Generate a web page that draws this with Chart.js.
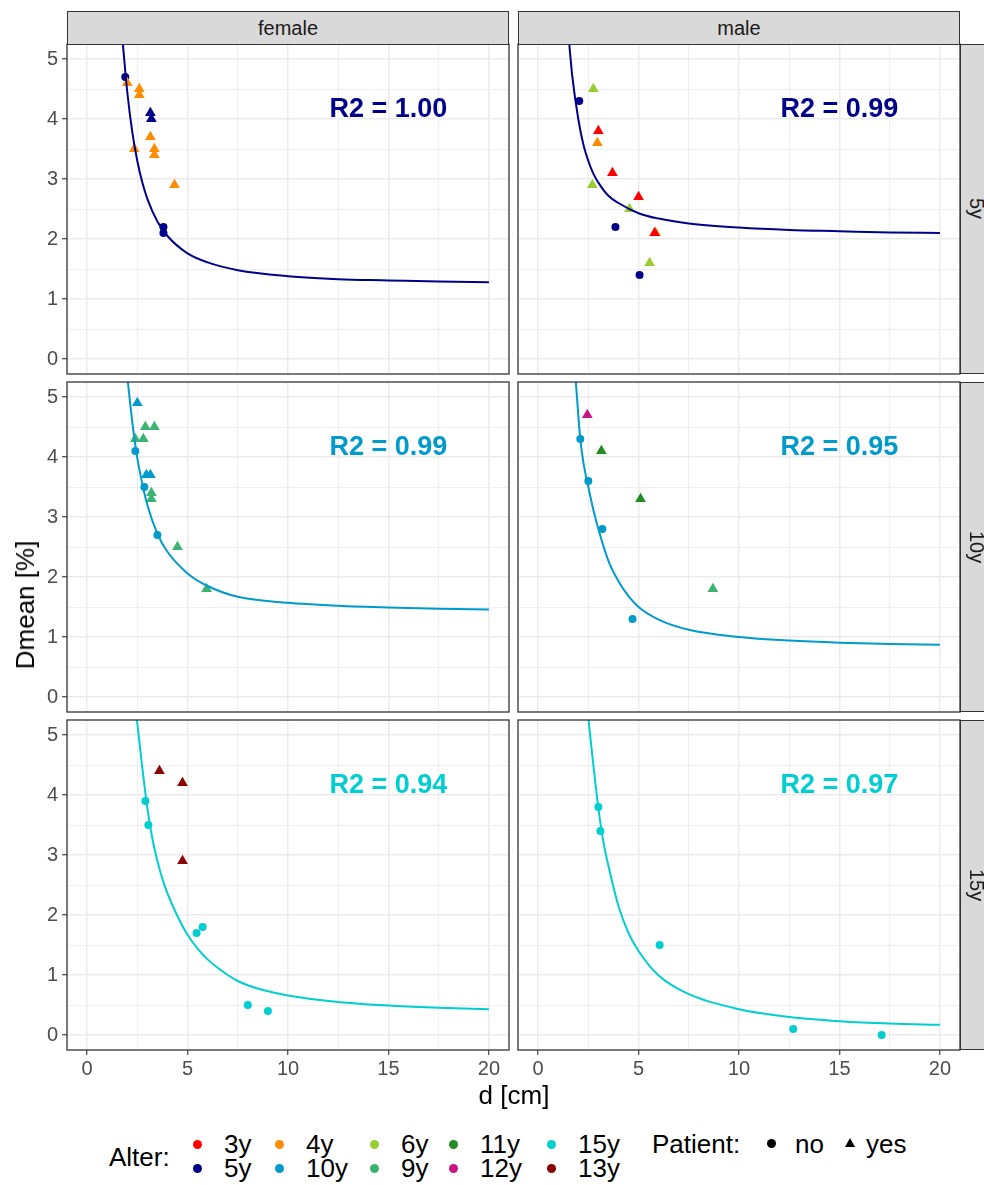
<!DOCTYPE html>
<html>
<head>
<meta charset="utf-8">
<script src="https://cdn.jsdelivr.net/npm/chart.js@4.4.1/dist/chart.umd.min.js"></script>
<style>
  body { margin: 0; background: #fff; }
  #page { position: relative; width: 984px; height: 1185px; overflow: hidden;
          font-family: "Liberation Sans", Arial, Helvetica, sans-serif; }
  #page canvas { position: absolute; }
  .strip { position: absolute; background: #D9D9D9; border: 1.2px solid #333333; box-sizing: border-box;
           color: #1A1A1A; font-size: 20px; line-height: 1; display: flex; align-items: center; justify-content: center; }
  .strip.side { writing-mode: vertical-rl; }
  .txt { position: absolute; line-height: 1; white-space: nowrap; color: #000; }
  .dot { position: absolute; width: 9px; height: 9px; border-radius: 50%; }
  .tri { position: absolute; width: 0; height: 0; border-left: 5px solid transparent;
         border-right: 5px solid transparent; border-bottom: 9px solid #000; }
</style>
</head>
<body>
<div id="page"></div>
<script>
// facets
const sexLevels = ['female', 'male'];
const yearLevels = ['5y', '10y', '15y'];

// colour per age group (legend order, column by column)
const ageLevels = ['3y', '5y', '4y', '10y', '6y', '9y', '11y', '12y', '15y', '13y'];
const ageColors = ['#FF0000', '#00008B', '#FF8C00', '#009ACD', '#9ACD32', '#3CB371', '#228B22', '#C71585', '#00CED1', '#8B0000'];
const fitColors = ['#00008B', '#009ACD', '#00CED1'];

// axes
const xGrid = [0, 2.5, 5, 7.5, 10, 12.5, 15, 17.5, 20];
const xLabels = [0, 5, 10, 15, 20];
const yGrid = [0, 0.5, 1, 1.5, 2, 2.5, 3, 3.5, 4, 4.5, 5];
const yLabels = [0, 1, 2, 3, 4, 5];

const r2Values = ['1.00', '0.99', '0.99', '0.95', '0.94', '0.97'];

// female, 5y
const f5D       = [1.9, 2.0, 2.6, 2.6, 3.15, 3.2, 3.15, 2.35, 3.35, 3.35, 4.35, 3.8, 3.8];
const f5Dmean   = [4.7, 4.6, 4.5, 4.4, 4.1, 4.0, 3.7, 3.5, 3.5, 3.4, 2.9, 2.2, 2.1];
const f5Alter   = ['5y', '4y', '4y', '4y', '5y', '5y', '4y', '4y', '4y', '4y', '4y', '5y', '5y'];
const f5Patient = ['no', 'yes', 'yes', 'yes', 'yes', 'yes', 'yes', 'yes', 'yes', 'yes', 'yes', 'no', 'no'];
const f5FitD     = [1.78, 2, 2.25, 2.5, 2.75, 3, 3.5, 4, 5, 6, 7.5, 10, 12.5, 15, 17.5, 20];
const f5FitDmean = [5.25, 4.45, 3.78, 3.3, 2.94, 2.67, 2.29, 2.05, 1.76, 1.61, 1.48, 1.38, 1.33, 1.31, 1.29, 1.28];

// male, 5y
const m5D       = [2.75, 2.05, 3.0, 2.95, 3.7, 2.7, 5.0, 4.55, 3.85, 5.85, 5.8, 5.55, 5.05];
const m5Dmean   = [4.5, 4.3, 3.8, 3.6, 3.1, 2.9, 2.7, 2.5, 2.2, 2.1, 2.1, 1.6, 1.4];
const m5Alter   = ['6y', '5y', '3y', '4y', '3y', '6y', '3y', '6y', '5y', '4y', '3y', '6y', '5y'];
const m5Patient = ['yes', 'no', 'yes', 'yes', 'yes', 'yes', 'yes', 'yes', 'no', 'yes', 'yes', 'yes', 'no'];
const m5FitD     = [1.55, 1.7, 2, 2.25, 2.5, 2.75, 3, 3.5, 4, 5, 6, 7.5, 10, 12.5, 15, 17.5, 20];
const m5FitDmean = [5.25, 4.72, 4.0, 3.58, 3.3, 3.09, 2.94, 2.72, 2.6, 2.43, 2.34, 2.26, 2.19, 2.15, 2.13, 2.11, 2.1];

// female, 10y
const f10D       = [2.5, 2.9, 3.35, 2.4, 2.8, 2.4, 2.95, 3.15, 2.85, 3.2, 3.2, 3.5, 4.5, 5.95];
const f10Dmean   = [4.9, 4.5, 4.5, 4.3, 4.3, 4.1, 3.7, 3.7, 3.5, 3.4, 3.3, 2.7, 2.5, 1.8];
const f10Alter   = ['10y', '9y', '9y', '9y', '9y', '10y', '10y', '10y', '10y', '9y', '9y', '10y', '9y', '9y'];
const f10Patient = ['yes', 'yes', 'yes', 'yes', 'yes', 'no', 'yes', 'yes', 'no', 'yes', 'yes', 'no', 'yes', 'yes'];
const f10FitD     = [2.03, 2.25, 2.5, 2.75, 3, 3.5, 4, 5, 6, 7.5, 10, 12.5, 15, 17.5, 20];
const f10FitDmean = [5.25, 4.58, 3.98, 3.55, 3.2, 2.72, 2.42, 2.06, 1.85, 1.67, 1.57, 1.52, 1.49, 1.47, 1.46];

// male, 10y
const m10D       = [2.45, 2.1, 3.15, 2.5, 5.1, 3.2, 8.7, 4.7];
const m10Dmean   = [4.7, 4.3, 4.1, 3.6, 3.3, 2.8, 1.8, 1.3];
const m10Alter   = ['12y', '10y', '11y', '10y', '11y', '10y', '9y', '10y'];
const m10Patient = ['yes', 'no', 'yes', 'no', 'yes', 'no', 'yes', 'no'];
const m10FitD     = [1.88, 2, 2.1, 2.25, 2.5, 2.75, 3, 3.5, 4, 4.5, 5, 6, 7.5, 10, 12.5, 15, 17.5, 20];
const m10FitDmean = [5.25, 4.7, 4.3, 3.92, 3.5, 3.12, 2.8, 2.27, 1.93, 1.68, 1.5, 1.29, 1.12, 1.0, 0.94, 0.905, 0.885, 0.87];

// female, 15y
const f15D       = [3.6, 4.75, 2.9, 3.05, 4.75, 5.75, 5.45, 8.0, 9.0];
const f15Dmean   = [4.4, 4.2, 3.9, 3.5, 2.9, 1.8, 1.7, 0.5, 0.4];
const f15Alter   = ['13y', '13y', '15y', '15y', '13y', '15y', '15y', '15y', '15y'];
const f15Patient = ['yes', 'yes', 'no', 'no', 'yes', 'no', 'no', 'no', 'no'];
const f15FitD     = [2.48, 2.75, 3, 3.25, 3.5, 3.75, 4, 4.5, 5, 5.5, 6, 6.5, 7, 7.5, 8, 8.75, 10, 12.5, 15, 17.5, 20];
const f15FitDmean = [5.25, 4.45, 3.78, 3.27, 2.9, 2.6, 2.36, 1.98, 1.67, 1.44, 1.26, 1.12, 1.0, 0.9, 0.83, 0.75, 0.66, 0.55, 0.49, 0.455, 0.43];

// male, 15y
const m15D       = [3.0, 3.1, 6.05, 12.7, 17.1];
const m15Dmean   = [3.8, 3.4, 1.5, 0.1, 0.0];
const m15Alter   = ['15y', '15y', '15y', '15y', '15y'];
const m15Patient = ['no', 'no', 'no', 'no', 'no'];
const m15FitD     = [2.51, 2.75, 3, 3.25, 3.5, 4, 4.5, 5, 6, 7.5, 10, 12.5, 15, 17.5, 20];
const m15FitDmean = [5.25, 4.5, 3.78, 3.22, 2.82, 2.15, 1.7, 1.4, 0.99, 0.68, 0.43, 0.3, 0.23, 0.19, 0.17];

const panels = [
  { col: 0, row: 0, d: f5D,  dmean: f5Dmean,  alter: f5Alter,  patient: f5Patient,  fitD: f5FitD,  fitDmean: f5FitDmean },
  { col: 1, row: 0, d: m5D,  dmean: m5Dmean,  alter: m5Alter,  patient: m5Patient,  fitD: m5FitD,  fitDmean: m5FitDmean },
  { col: 0, row: 1, d: f10D, dmean: f10Dmean, alter: f10Alter, patient: f10Patient, fitD: f10FitD, fitDmean: f10FitDmean },
  { col: 1, row: 1, d: m10D, dmean: m10Dmean, alter: m10Alter, patient: m10Patient, fitD: m10FitD, fitDmean: m10FitDmean },
  { col: 0, row: 2, d: f15D, dmean: f15Dmean, alter: f15Alter, patient: f15Patient, fitD: f15FitD, fitDmean: f15FitDmean },
  { col: 1, row: 2, d: m15D, dmean: m15Dmean, alter: m15Alter, patient: m15Patient, fitD: m15FitD, fitDmean: m15FitDmean }
];

// panel boxes in page pixels
const colLeft = [67, 518];
const panelW = 442;
const rowTop = [44, 382, 720];
const panelH = 330;
const yAxisW = 67;
const xAxisH = 40;

const FONT = '"Liberation Sans", Arial, Helvetica, sans-serif';
const page = document.getElementById('page');

// draws the panel frame and the R2 annotation
const panelFrame = {
  id: 'panelFrame',
  afterDatasetsDraw(chart, args, opts) {
    const { ctx, chartArea: a, scales } = chart;
    ctx.save();
    const size = 27;
    ctx.font = 'bold ' + size + 'px ' + FONT;
    ctx.fillStyle = opts.color;
    ctx.textAlign = 'center';
    ctx.textBaseline = 'alphabetic';
    ctx.fillText(opts.label, scales.x.getPixelForValue(15), scales.y.getPixelForValue(4.2) + 0.36 * size);
    ctx.strokeStyle = '#333333';
    ctx.lineWidth = 1.3;
    ctx.strokeRect(a.left, a.top, a.right - a.left, a.bottom - a.top);
    ctx.restore();
  }
};

function axis(min, max, grid, labels, show, fitSize, horizontal) {
  const major = v => labels.includes(v);
  return {
    type: 'linear', min: min, max: max,
    afterBuildTicks: s => { s.ticks = grid.map(v => ({ value: v })); },
    afterFit: s => {
      if (horizontal) s.height = fitSize; else s.width = fitSize;
      // labels never sit on the panel edges, so no extra room is needed
      s.paddingTop = s.paddingBottom = s.paddingLeft = s.paddingRight = 0;
    },
    border: { display: false },
    grid: {
      color: '#EBEBEB',
      lineWidth: c => major(c.tick.value) ? 1.5 : 0.8,
      drawTicks: show,
      tickLength: 5,
      tickWidth: 1.1,
      tickColor: c => major(c.tick.value) ? '#333333' : 'rgba(0,0,0,0)'
    },
    ticks: {
      display: show, autoSkip: false, maxRotation: 0, minRotation: 0,
      padding: horizontal ? 2 : 4,
      color: '#4D4D4D',
      font: { family: FONT, size: 20 },
      callback: v => major(v) ? String(v) : ''
    }
  };
}

panels.forEach((p, i) => {
  const left = p.col === 0 ? yAxisW : 1;
  const bottom = p.row === 2 ? xAxisH : 1;
  const cv = document.createElement('canvas');
  cv.width = left + panelW + 1;
  cv.height = 1 + panelH + bottom;
  cv.style.left = (colLeft[p.col] - left) + 'px';
  cv.style.top = (rowTop[p.row] - 1) + 'px';
  cv.style.width = cv.width + 'px';
  cv.style.height = cv.height + 'px';
  page.appendChild(cv);

  const points = p.d.map((d, k) => ({ x: d, y: p.dmean[k] }));
  const colors = p.alter.map(a => ageColors[ageLevels.indexOf(a)]);

  new Chart(cv, {
    type: 'scatter',
    data: {
      datasets: [
        {
          data: p.fitD.map((d, k) => ({ x: d, y: p.fitDmean[k] })),
          showLine: true,
          borderColor: fitColors[p.row],
          borderWidth: 2,
          pointRadius: 0,
          cubicInterpolationMode: 'monotone',
          fill: false,
          clip: 0
        },
        {
          data: points,
          pointStyle: p.patient.map(s => s === 'yes' ? 'triangle' : 'circle'),
          pointRadius: p.patient.map(s => s === 'yes' ? 6.2 : 4),
          pointBackgroundColor: colors,
          pointBorderColor: colors,
          pointBorderWidth: 0,
          clip: 0
        }
      ]
    },
    options: {
      responsive: false,
      animation: false,
      devicePixelRatio: 1,
      layout: {
        autoPadding: false,
        padding: { left: p.col === 0 ? 0 : 1, right: 1, top: 1, bottom: p.row === 2 ? 0 : 1 }
      },
      scales: {
        x: axis(-1, 21, xGrid, xLabels, p.row === 2, p.row === 2 ? xAxisH : 0, true),
        y: axis(-0.25, 5.25, yGrid, yLabels, p.col === 0, p.col === 0 ? yAxisW : 0, false)
      },
      plugins: {
        legend: { display: false },
        tooltip: { enabled: false },
        panelFrame: { label: 'R2 = ' + r2Values[i], color: fitColors[p.row] }
      }
    },
    plugins: [panelFrame]
  });
});

// facet strips
sexLevels.forEach((s, c) => {
  const el = document.createElement('div');
  el.className = 'strip';
  el.style.left = colLeft[c] + 'px';
  el.style.top = '11px';
  el.style.width = panelW + 'px';
  el.style.height = '34px';
  el.textContent = s;
  page.appendChild(el);
});
yearLevels.forEach((y, r) => {
  const el = document.createElement('div');
  el.className = 'strip side';
  el.style.left = (colLeft[1] + panelW - 0.5) + 'px';
  el.style.top = rowTop[r] + 'px';
  el.style.width = '34px';
  el.style.height = panelH + 'px';
  el.textContent = y;
  page.appendChild(el);
});

function text(str, x, cy, size, align) {
  const el = document.createElement('div');
  el.className = 'txt';
  el.textContent = str;
  el.style.fontSize = size + 'px';
  el.style.top = (cy - size / 2) + 'px';
  el.style.left = x + 'px';
  if (align === 'center') el.style.transform = 'translateX(-50%)';
  page.appendChild(el);
  return el;
}

// axis titles
text('d [cm]', 514, 1095, 26, 'center');
const yTitle = text('Dmean [%]', 25, 605, 26, 'left');
yTitle.style.transform = 'translate(-50%, 0) rotate(-90deg)';
yTitle.style.transformOrigin = '50% 50%';

// legend
const legendDotX = [197, 279, 374, 453, 551];
const legendRowY = [1144, 1168];
text('Alter:', 109, 1157, 26, 'left');
ageLevels.forEach((a, k) => {
  const c = Math.floor(k / 2), r = k % 2;
  const dot = document.createElement('div');
  dot.className = 'dot';
  dot.style.background = ageColors[k];
  dot.style.left = (legendDotX[c] - 4.5) + 'px';
  dot.style.top = (legendRowY[r] - 4.5) + 'px';
  page.appendChild(dot);
  text(a, legendDotX[c] + 27, legendRowY[r], 26, 'left');
});
text('Patient:', 652, 1144, 26, 'left');
const pDot = document.createElement('div');
pDot.className = 'dot';
pDot.style.background = '#000';
pDot.style.left = (771 - 4.5) + 'px';
pDot.style.top = (1143 - 4.5) + 'px';
page.appendChild(pDot);
text('no', 795, 1144, 26, 'left');
const pTri = document.createElement('div');
pTri.className = 'tri';
pTri.style.left = (850 - 5) + 'px';
pTri.style.top = (1143 - 5) + 'px';
page.appendChild(pTri);
text('yes', 866, 1144, 26, 'left');
</script>
</body>
</html>
